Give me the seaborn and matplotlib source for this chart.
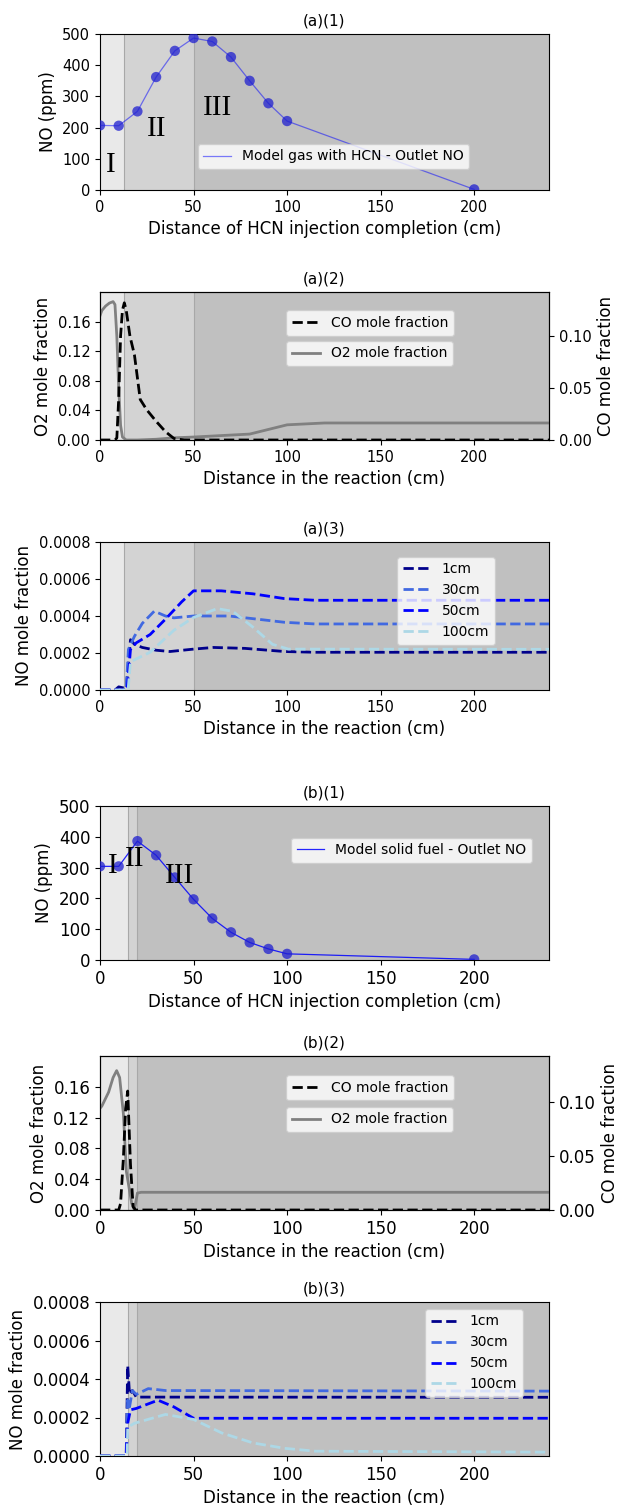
import numpy as np
import pandas as pd
import matplotlib
matplotlib.use("Agg")
import matplotlib.pyplot as plt
import seaborn as sns

# ==========================================
# DATA
# ==========================================

# outlet NO vs distance of HCN injection completion
dist_pts = [0, 10, 20, 30, 40, 50, 60, 70, 80, 90, 100, 200]
no_gas_ppm = [207, 206, 252, 362, 446, 487, 476, 426, 350, 278, 221, 2]
no_solid_ppm = [304, 304, 386, 340, 268, 197, 135, 90, 57, 36, 20, 2]

# (a)(2) gas with HCN: O2 and CO along the reactor
a_o2_x = [0, 1, 3, 5, 7, 8, 9, 10, 11, 12, 14, 20, 30, 40, 50, 80, 100, 120, 240]
a_o2_y = [0.168, 0.175, 0.181, 0.185, 0.187, 0.183, 0.14, 0.07, 0.02, 0.004,
          0.0, 0.0, 0.001, 0.003, 0.004, 0.008, 0.0205, 0.023, 0.023]
a_co_x = [0, 8, 9, 10, 11, 12, 13, 14, 16, 18.4, 21.5, 25, 30, 35, 39.5, 45, 240]
a_co_y = [0, 0, 0.002, 0.04, 0.10, 0.125, 0.132, 0.125, 0.10, 0.082, 0.039,
          0.029, 0.018, 0.008, 0.0015, 0, 0]

# (b)(2) solid fuel: O2 and CO along the reactor
b_o2_x = [0, 1, 4.6, 7, 8.9, 10.5, 12.5, 14.1, 16.9, 18.4, 20, 22, 240]
b_o2_y = [0.132, 0.135, 0.153, 0.172, 0.181, 0.172, 0.125, 0.05, 0.009, 0.0,
          0.022, 0.023, 0.023]
b_co_x = [0, 10, 11, 12.5, 13.7, 14.8, 16.3, 17.7, 19, 240]
b_co_y = [0, 0, 0.006, 0.048, 0.094, 0.110, 0.042, 0.003, 0, 0]

inj_labels = ["1cm", "30cm", "50cm", "100cm"]
inj_colors = ["darkblue", "royalblue", "blue", "lightblue"]

# (a)(3) NO mole fraction, gas with HCN
a_no_x = [
    [0, 8, 10, 14, 16.3, 18.4, 22.6, 30, 37.4, 50, 60.6, 77.5, 98.6, 115, 240],
    [0, 14, 15.2, 18.4, 22.6, 29, 35, 39.5, 50, 69, 84, 98.6, 115, 240],
    [0, 14.5, 16.3, 19.4, 26.8, 35, 43.7, 50, 64.8, 81.7, 98.6, 115, 240],
    [0, 15, 16.3, 26.8, 39.5, 50, 62.7, 71, 81.7, 92.2, 100.7, 240],
]
a_no_y = [
    [0, 0, 0.000017, 0.000008, 0.000272, 0.000247, 0.00023, 0.000215, 0.000208,
     0.000221, 0.00023, 0.000225, 0.000208, 0.000204, 0.000204],
    [0, 0, 0.00022, 0.00029, 0.00036, 0.000426, 0.0004, 0.00039, 0.0004, 0.0004,
     0.000383, 0.000366, 0.000357, 0.000357],
    [0, 0, 0.00022, 0.000255, 0.0003, 0.000383, 0.000477, 0.000536, 0.000536,
     0.00052, 0.000494, 0.000485, 0.000485],
    [0, 0, 0.000153, 0.000204, 0.000323, 0.000392, 0.00044, 0.000425, 0.00034,
     0.000247, 0.000221, 0.00022],
]

# (b)(3) NO mole fraction, solid fuel
b_no_x = [
    [0, 14, 14.8, 15.8, 17.3, 19.4, 240],
    [0, 14, 14.8, 15.8, 17.3, 19.4, 25.8, 35, 240],
    [0, 14, 14.8, 16.3, 19.4, 31, 39.5, 50, 240],
    [0, 14.5, 14.8, 18.4, 35, 50, 65, 81.7, 98.6, 115, 240],
]
b_no_y = [
    [0, 0, 0.00047, 0.00032, 0.00034, 0.000306, 0.000305],
    [0, 0, 0.00029, 0.000255, 0.00034, 0.00032, 0.00035, 0.00034, 0.000337],
    [0, 0, 0.00017, 0.00024, 0.000247, 0.00029, 0.000255, 0.000196, 0.000196],
    [0, 0, 0.00015, 0.00017, 0.000216, 0.00019, 0.00012, 0.000068, 0.00004,
     0.000025, 0.00002],
]

# reaction zones (I, II, III)
a_zones = [0, 13, 50, 240]
b_zones = [0, 15, 20, 240]
zone_colors = ["#e9e9e9", "#d3d3d3", "#c0c0c0"]

# ==========================================
# FIGURE
# ==========================================

W, H = 619, 1508
fig = plt.figure(figsize=(W / 100, H / 100), dpi=100)
LAB = 12


def make_ax(top_px, bottom_px):
    return fig.add_axes([100 / W, 1 - bottom_px / H, 449 / W,
                         (bottom_px - top_px) / H])


def shade(ax, zones):
    for i in range(3):
        ax.axvspan(zones[i], zones[i + 1], color=zone_colors[i], lw=0, zorder=0)
    for z in zones[1:3]:
        ax.axvline(z, color="#a8a8a8", lw=0.8, zorder=0.5)
    ax.set_xlim(0, 240)
    ax.set_xticks([0, 50, 100, 150, 200])


def roman(ax, pos):
    for txt, (x, y) in zip(["I", "II", "III"], pos):
        ax.text(x, y, txt, fontsize=21, family="Liberation Serif",
                ha="center", va="center", zorder=5)


def no_ppm_panel(ax, y, label, title, line_alpha, tick_fs, pos, legend_kw):
    shade(ax, a_zones if title.startswith("(a)") else b_zones)
    sns.lineplot(x=dist_pts, y=y, ax=ax, color="blue", lw=0.9,
                 alpha=line_alpha, label=label, zorder=3)
    sns.scatterplot(x=dist_pts, y=y, ax=ax, color="#2020d0", s=55,
                    alpha=0.75, edgecolor="none", zorder=4)
    ax.set_ylim(0, 500)
    ax.set_yticks([0, 100, 200, 300, 400, 500])
    ax.set_title(title, fontsize=LAB - 1)
    ax.set_xlabel("Distance of HCN injection completion (cm)", fontsize=LAB)
    ax.set_ylabel("NO (ppm)", fontsize=LAB)
    ax.tick_params(labelsize=tick_fs)
    roman(ax, pos)
    ax.legend(fontsize=10, **legend_kw)


def o2_co_panel(ax, ox, oy, cx, cy, title, tick_fs):
    shade(ax, a_zones if title.startswith("(a)") else b_zones)
    sns.lineplot(x=ox, y=oy, ax=ax, color="gray", lw=2,
                 label="O2 mole fraction", zorder=3)
    ax.set_ylim(0, 0.2)
    ax.set_yticks([0, 0.04, 0.08, 0.12, 0.16])
    ax.set_title(title, fontsize=LAB - 1)
    ax.set_xlabel("Distance in the reaction (cm)", fontsize=LAB)
    ax.set_ylabel("O2 mole fraction", fontsize=LAB)
    ax.tick_params(labelsize=tick_fs)
    ax.legend(loc="upper left", bbox_to_anchor=(0.415, 0.67),
              borderaxespad=0, fontsize=10)

    ax2 = ax.twinx()
    sns.lineplot(x=cx, y=cy, ax=ax2, color="black", lw=2, linestyle="--",
                 label="CO mole fraction", zorder=3)
    ax2.set_ylim(0, 0.1424)
    ax2.set_yticks([0, 0.05, 0.10])
    ax2.set_ylabel("CO mole fraction", fontsize=LAB)
    ax2.tick_params(labelsize=tick_fs)
    ax2.legend(loc="upper left", bbox_to_anchor=(0.415, 0.875),
               borderaxespad=0, fontsize=10)


def no_frac_panel(ax, xs, ys, title, tick_fs, legend_kw):
    shade(ax, a_zones if title.startswith("(a)") else b_zones)
    for x, y, lab, col in zip(xs, ys, inj_labels, inj_colors):
        sns.lineplot(x=x, y=y, ax=ax, color=col, lw=2, linestyle="--",
                     label=lab, zorder=3)
    ax.set_ylim(0, 0.0008)
    ax.set_yticks([0, 0.0002, 0.0004, 0.0006, 0.0008])
    ax.set_yticklabels(["0.0000", "0.0002", "0.0004", "0.0006", "0.0008"])
    ax.set_title(title, fontsize=LAB - 1)
    ax.set_xlabel("Distance in the reaction (cm)", fontsize=LAB)
    ax.set_ylabel("NO mole fraction", fontsize=LAB)
    ax.tick_params(labelsize=tick_fs)
    ax.legend(fontsize=10, loc="upper left", borderaxespad=0, **legend_kw)


# (a) model gas with HCN
ax = make_ax(34, 190)
no_ppm_panel(ax, no_gas_ppm, "Model gas with HCN - Outlet NO", "(a)(1)", 0.5, 10.5,
             [(5.7, 80), (30.4, 197), (62.7, 264)],
             dict(loc="lower center", bbox_to_anchor=(0.52, 0.09)))

ax = make_ax(292, 440)
o2_co_panel(ax, a_o2_x, a_o2_y, a_co_x, a_co_y, "(a)(2)", 10.5)

ax = make_ax(542, 690)
no_frac_panel(ax, a_no_x, a_no_y, "(a)(3)", 10.5,
              dict(bbox_to_anchor=(0.662, 0.9)))

# (b) model solid fuel
ax = make_ax(806, 960)
no_ppm_panel(ax, no_solid_ppm, "Model solid fuel - Outlet NO", "(b)(1)", 0.85, 12,
             [(6.8, 304), (18.8, 329), (42.6, 272)],
             dict(loc="upper left", bbox_to_anchor=(0.41, 0.84)))

ax = make_ax(1056, 1210)
o2_co_panel(ax, b_o2_x, b_o2_y, b_co_x, b_co_y, "(b)(2)", 12)

ax = make_ax(1302, 1456)
no_frac_panel(ax, b_no_x, b_no_y, "(b)(3)", 12,
              dict(bbox_to_anchor=(0.724, 0.955)))

fig.savefig("out.png", dpi=100)
